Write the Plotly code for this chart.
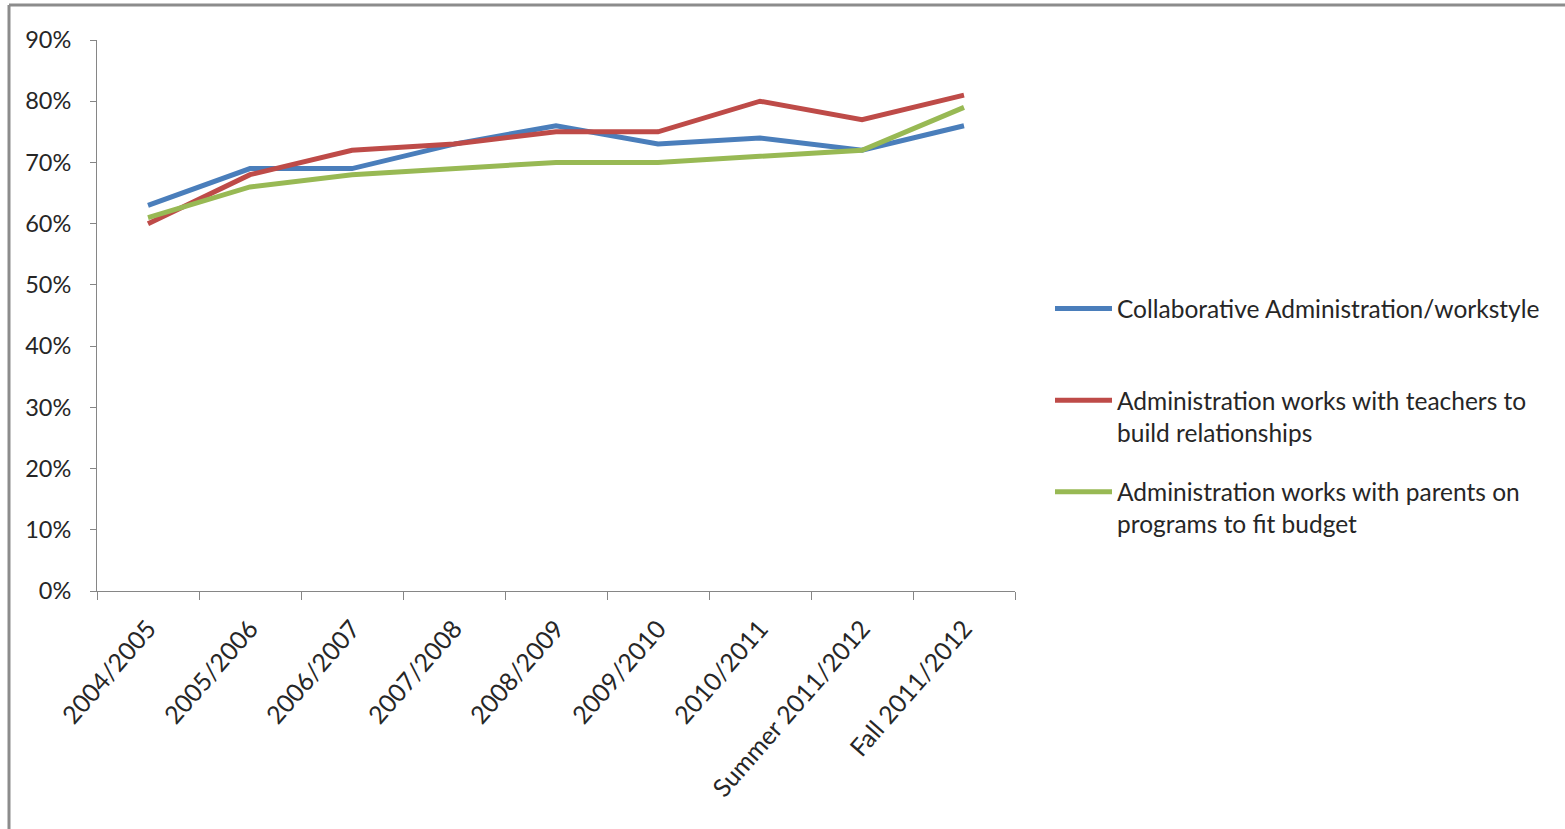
import plotly.graph_objects as go

categories = ["2004/2005", "2005/2006", "2006/2007", "2007/2008", "2008/2009",
              "2009/2010", "2010/2011", "Summer 2011/2012", "Fall 2011/2012"]
collab = [0.63, 0.69, 0.69, 0.73, 0.76, 0.73, 0.74, 0.72, 0.76]
teachers = [0.60, 0.68, 0.72, 0.73, 0.75, 0.75, 0.80, 0.77, 0.81]
parents = [0.61, 0.66, 0.68, 0.69, 0.70, 0.70, 0.71, 0.72, 0.79]
names = ["Collaborative Administration/workstyle<br>\u00a0",
         "Administration works with teachers to<br>build relationships",
         "Administration works with parents on<br>programs to fit budget"]
colors = ["#4A7EBB", "#BE4B48", "#98B954"]
y_ticks = [0, 0.1, 0.2, 0.3, 0.4, 0.5, 0.6, 0.7, 0.8, 0.9]

FONT = "Lato"
fig = go.Figure()
for i, (vals, name, col) in enumerate(zip([collab, teachers, parents], names, colors)):
    fig.add_trace(go.Scatter(x=categories, y=vals, name=name, mode="lines",
                             line=dict(color=col, width=5), legendgroup=str(i)))

W, H = 1565, 829
L, R, T, B = 97, 550, 40, 238
pw, ph = W - L - R, H - T - B

fig.update_layout(
    width=W, height=H,
    margin=dict(l=L, r=R, t=T, b=B),
    paper_bgcolor="white", plot_bgcolor="white",
    font=dict(family=FONT, color="#262626", size=22),
    showlegend=True,
    legend=dict(x=(1050 - L) / pw, y=(591 - 286) / ph, xanchor="left", yanchor="top",
                font=dict(size=24.5, family=FONT, color="#262626"),
                tracegroupgap=25, valign="top", itemwidth=57,
                bgcolor="rgba(0,0,0,0)"),
    xaxis=dict(type="category", showgrid=False, showline=True, linecolor="#868686",
               linewidth=1, ticks="outside", ticklen=8, tickcolor="#868686",
               tickson="boundaries", tickangle=-49, tickfont=dict(size=25),
               ticklabelstandoff=12,
               range=[-0.5, len(categories) - 0.5]),
    yaxis=dict(range=[0, 0.9], tickvals=y_ticks, tickformat=".0%", showgrid=False,
               showline=True, linecolor="#868686", linewidth=1, ticks="outside",
               ticklen=6, tickcolor="#868686", tickfont=dict(size=23.5), zeroline=False,
               ticklabelstandoff=14),
    shapes=[
        dict(type="line", xref="paper", yref="paper",
             x0=(9 - L) / pw, x1=(W + 5 - L) / pw, y0=(H - B - 5) / ph, y1=(H - B - 5) / ph,
             line=dict(color="#8C8C8C", width=3)),
        dict(type="line", xref="paper", yref="paper",
             x0=(9 - L) / pw, x1=(9 - L) / pw, y0=(H - B - 5) / ph, y1=(H - B - H - 5) / ph,
             line=dict(color="#8C8C8C", width=3)),
    ],
)
fig.write_html("out.html")
